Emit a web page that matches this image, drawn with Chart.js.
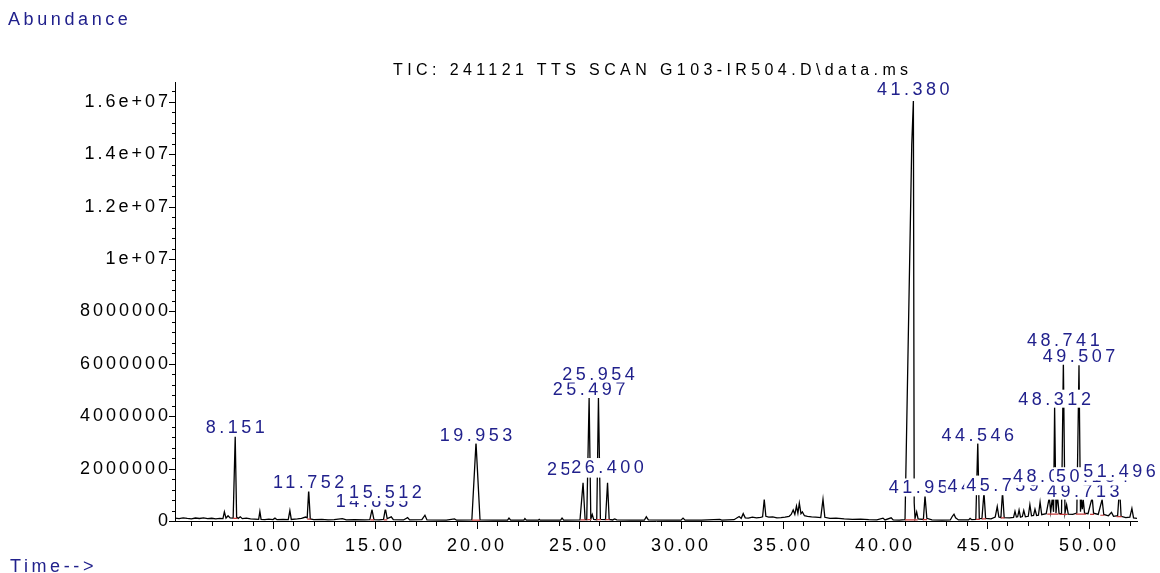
<!DOCTYPE html>
<html>
<head>
<meta charset="utf-8">
<script src="https://cdn.jsdelivr.net/npm/chart.js@4.4.1/dist/chart.umd.min.js"></script>
<style>
  html, body { margin: 0; padding: 0; background: #fff; }
  #wrap { position: relative; width: 1160px; height: 573px; overflow: hidden; }
  #chart { position: absolute; left: 0; top: 0; }
  .txt { position: absolute; white-space: nowrap; font-family: "Liberation Sans", Arial, sans-serif; line-height: 20px; }
  .blue { color: #21218c; font-size: 18px; letter-spacing: 3.6px; }
  #title { left: 393px; top: 60px; font-size: 16px; letter-spacing: 4.4px; color: #000; }
</style>
</head>
<body>
<div id="wrap">
  <canvas id="chart" width="1160" height="573"></canvas>
  <div class="txt blue" style="left:8px;top:9px">Abundance</div>
  <div class="txt" id="title">TIC: 241121 TTS SCAN G103-IR504.D\data.ms</div>
  <div class="txt blue" style="left:10px;top:556px">Time--&gt;</div>
</div>
<script>
// ------ DATA ------
// retention time (min) and abundance, line by line kept aligned
const retentionTimes = [
  5.2, 5.4, 5.6, 5.8, 6.0, 6.2, 6.4, 6.6, 6.8, 7.0, 7.2, 7.4, 7.55, 7.62, 7.7, 7.8, 7.9,
  8.05, 8.151, 8.22, 8.3, 8.4, 8.5, 8.7, 8.9, 9.1, 9.3, 9.36, 9.42, 9.6, 9.8, 10.0, 10.1, 10.2, 10.5, 10.75, 10.83, 10.9,
  11.2, 11.4, 11.6, 11.68, 11.752, 11.83, 12.0, 12.4, 12.7, 13.0, 13.4, 13.6, 14.0, 14.5, 14.75, 14.855, 14.95, 15.2, 15.42, 15.512, 15.6, 15.8, 15.9,
  16.4, 16.6, 16.7, 17.3, 17.45, 17.55, 18.5, 18.9, 19.0, 19.75, 19.953, 20.15, 20.8, 21.5, 21.57, 21.65, 22.3, 22.35, 22.42, 23.0, 23.05, 23.1, 24.1, 24.17, 24.25,
  25.05, 25.2, 25.3, 25.38, 25.497, 25.58, 25.65, 25.72, 25.87, 25.954, 26.05, 26.3, 26.4, 26.48, 26.65, 26.75, 26.85,
  27.5, 28.2, 28.3, 28.4, 29.3, 30.0, 30.1, 30.2, 31.0, 31.9, 32.0, 32.6, 32.85, 32.95, 33.05, 33.15, 33.3, 33.5, 33.7, 33.9,
  34.0, 34.08, 34.16, 34.3, 34.5, 34.7, 34.9, 35.1, 35.3, 35.4, 35.5, 35.58, 35.66, 35.73, 35.8, 35.88, 35.95, 36.05, 36.2, 36.4, 36.6, 36.85, 36.96, 37.05,
  37.3, 37.6, 38.0, 38.4, 38.8, 39.2, 39.6, 39.9, 40.0, 40.3, 40.4, 40.7, 40.98, 41.31, 41.39, 41.43, 41.47, 41.55, 41.62, 41.88, 41.96, 42.05, 42.3,
  42.8, 43.2, 43.3, 43.38, 43.46, 43.6, 44.1, 44.17, 44.25, 44.45, 44.546, 44.62, 44.75, 44.85, 44.93, 45.2, 45.4, 45.5, 45.58, 45.68, 45.759, 45.84,
  46.1, 46.3, 46.37, 46.44, 46.5, 46.57, 46.64, 46.73, 46.8, 46.88, 47.02, 47.1, 47.18, 47.28, 47.35, 47.43, 47.52, 47.6, 47.68, 47.9,
  48.052, 48.12, 48.2, 48.26, 48.312, 48.38, 48.45, 48.53, 48.65, 48.741, 48.82, 48.9, 48.98, 49.2,
  49.4, 49.507, 49.58, 49.62, 49.67, 49.713, 49.78, 49.95, 50.154, 50.22, 50.45, 50.64, 50.72, 50.95, 51.1, 51.2, 51.4, 51.496, 51.57, 51.8, 52.0, 52.1, 52.18, 52.35
];
const abundance = [
  110000, 90000, 120000, 100000, 85000, 115000, 95000, 120000, 90000, 105000, 80000, 100000, 90000, 350000, 110000, 200000, 120000,
  110000, 3230000, 150000, 100000, 160000, 90000, 110000, 80000, 70000, 60000, 360000, 60000, 50000, 70000, 55000, 110000, 50000, 60000, 55000, 400000, 60000,
  80000, 100000, 150000, 120000, 1170000, 80000, 50000, 60000, 40000, 50000, 90000, 40000, 50000, 40000, 50000, 430000, 50000, 45000, 60000, 470000, 90000, 160000, 50000,
  40000, 130000, 40000, 50000, 220000, 40000, 30000, 80000, 30000, 40000, 3000000, 40000, 30000, 30000, 110000, 30000, 30000, 90000, 30000, 30000, 60000, 30000, 30000, 110000, 30000,
  40000, 1460000, 60000, 50000, 4700000, 80000, 250000, 60000, 50000, 4700000, 60000, 50000, 1460000, 60000, 40000, 80000, 40000,
  30000, 30000, 160000, 40000, 30000, 30000, 110000, 30000, 30000, 60000, 35000, 50000, 170000, 100000, 280000, 120000, 110000, 150000, 120000, 140000,
  160000, 820000, 180000, 150000, 160000, 120000, 130000, 150000, 180000, 250000, 420000, 250000, 570000, 300000, 680000, 280000, 350000, 200000, 180000, 160000, 150000, 130000, 830000, 140000,
  100000, 110000, 80000, 60000, 70000, 50000, 40000, 110000, 40000, 120000, 40000, 30000, 50000, 14360000, 16030000, 700000, 100000, 350000, 80000, 60000, 960000, 100000, 40000,
  30000, 40000, 180000, 260000, 120000, 40000, 40000, 100000, 50000, 60000, 3000000, 100000, 90000, 1090000, 100000, 80000, 150000, 550000, 150000, 130000, 1110000, 130000,
  120000, 140000, 370000, 150000, 160000, 420000, 150000, 170000, 400000, 160000, 180000, 620000, 200000, 210000, 450000, 210000, 220000, 720000, 240000, 280000,
  900000, 350000, 880000, 350000, 4350000, 300000, 1000000, 280000, 280000, 6070000, 300000, 620000, 260000, 250000,
  300000, 5950000, 350000, 880000, 450000, 820000, 300000, 280000, 900000, 300000, 250000, 820000, 250000, 200000, 330000, 180000, 200000, 1300000, 180000, 130000, 150000, 480000, 120000, 100000
];

// integration baselines (red) : start, end, level
const baseStart = [8.05, 11.68, 14.78, 15.43, 19.75, 25.08, 25.38, 25.85, 26.3, 40.98, 41.85, 44.45, 44.75, 45.68, 47.95, 48.55, 49.35, 50.05, 50.55, 51.35];
const baseEnd   = [8.25, 11.85, 14.95, 15.6, 20.15, 25.32, 25.6, 26.08, 26.5, 41.6, 42.06, 44.65, 44.95, 45.86, 48.5, 48.95, 49.85, 50.25, 50.75, 51.6];
const baseLevel = [100000, 70000, 40000, 40000, 30000, 40000, 50000, 50000, 50000, 40000, 50000, 60000, 80000, 120000, 260000, 250000, 260000, 250000, 220000, 170000];

// peak labels, in drawing order (later ones cover earlier ones)
const labelTimes  = [8.151, 11.752, 14.855, 15.512, 19.953, 25.214, 26.400, 25.497, 25.954, 41.380, 41.957, 44.546, 44.846, 45.759, 48.312, 48.741, 49.507, 49.713, 48.052, 50.154, 51.496];
const labelTexts  = ['8.151', '11.752', '14.855', '15.512', '19.953', '25.214', '26.400', '25.497', '25.954', '41.380', '41.957', '44.546', '44.846', '45.759', '48.312', '48.741', '49.507', '49.713', '48.052', '50.154', '51.496'];
const labelLevels = [3570000, 1470000, 780000, 1100000, 3300000, 2000000, 2060000, 5050000, 5630000, 16500000, 1280000, 3300000, 1330000, 1390000, 4670000, 6920000, 6310000, 1160000, 1700000, 1700000, 1890000];

// axis ticks
const xMajorTicks = [10, 15, 20, 25, 30, 35, 40, 45, 50];
const xTickLabels = ['10.00', '15.00', '20.00', '25.00', '30.00', '35.00', '40.00', '45.00', '50.00'];
const yMajorTicks = [0, 2000000, 4000000, 6000000, 8000000, 10000000, 12000000, 14000000, 16000000];
const yTickLabels = ['0', '2000000', '4000000', '6000000', '8000000', '1e+07', '1.2e+07', '1.4e+07', '1.6e+07'];

// ------ helpers ------
const FONT = '"Liberation Sans", Arial, Helvetica, sans-serif';
const BLUE = '#21218c';

const xTickValues = [];
for (let v = 6; v <= 52; v++) xTickValues.push(v);
const yTickValues = [];
for (let v = 0; v <= 16400000; v += 400000) yTickValues.push(v);

const lineData = retentionTimes.map((t, i) => ({x: t, y: abundance[i]}));
const baseData = [];
baseStart.forEach((s, i) => {
  baseData.push({x: s, y: baseLevel[i]}, {x: baseEnd[i], y: baseLevel[i]}, {x: baseEnd[i], y: null});
});

// letter spaced canvas text, like the ChemStation print
const spacing = {
  id: 'spacing',
  beforeDraw(chart) { chart.ctx.letterSpacing = '3px'; }
};

// major / minor tick marks
const tickMarks = {
  id: 'tickMarks',
  afterDraw(chart) {
    const {ctx, chartArea: a, scales: {x, y}} = chart;
    ctx.save();
    ctx.strokeStyle = '#000';
    ctx.lineWidth = 1;
    ctx.beginPath();
    xTickValues.forEach(v => {
      const px = Math.round(x.getPixelForValue(v)) + 0.5;
      const len = xMajorTicks.includes(v) ? 8 : 5;
      ctx.moveTo(px, a.bottom);
      ctx.lineTo(px, a.bottom + len);
    });
    yTickValues.forEach(v => {
      const py = Math.round(y.getPixelForValue(v)) + 0.5;
      const len = yMajorTicks.includes(v) ? 6 : 3;
      ctx.moveTo(a.left - len, py);
      ctx.lineTo(a.left, py);
    });
    ctx.stroke();
    ctx.restore();
  }
};

// peak labels with white boxes
const peakLabels = {
  id: 'peakLabels',
  afterDatasetsDraw(chart) {
    const {ctx, scales: {x, y}} = chart;
    ctx.save();
    ctx.font = '18px ' + FONT;
    ctx.letterSpacing = '3.5px';
    ctx.textAlign = 'left';
    ctx.textBaseline = 'middle';
    labelTimes.forEach((t, i) => {
      const txt = labelTexts[i];
      const w = ctx.measureText(txt).width - 3.5;
      const cx = x.getPixelForValue(t);
      const cy = y.getPixelForValue(labelLevels[i]);
      const left = cx - w / 2;
      ctx.fillStyle = '#fff';
      ctx.fillRect(left - 2, cy - 9, w + 4, 18);
      ctx.fillStyle = BLUE;
      ctx.fillText(txt, left, cy + 1);
    });
    ctx.restore();
  }
};

new Chart(document.getElementById('chart'), {
  type: 'line',
  data: {
    datasets: [
      {data: baseData, borderColor: '#c23b3b', borderWidth: 1.2, pointRadius: 0, spanGaps: false, order: 0},
      {data: lineData, borderColor: '#000', borderWidth: 1.3, pointRadius: 0, tension: 0, order: 1}
    ]
  },
  options: {
    responsive: false,
    animation: false,
    devicePixelRatio: 1,
    layout: {padding: {left: 0, top: 82, right: 23, bottom: 0}},
    plugins: {legend: {display: false}, tooltip: {enabled: false}, title: {display: false}},
    scales: {
      x: {
        type: 'linear', min: 5.2, max: 52.35,
        afterBuildTicks: s => { s.ticks = xTickValues.map(v => ({value: v})); },
        afterFit: s => { s.height = 52; },
        grid: {display: false, drawTicks: false},
        border: {display: true, color: '#000', width: 1},
        ticks: {
          autoSkip: false, maxRotation: 0, padding: 14, color: '#000',
          font: {family: FONT, size: 18},
          callback: v => { const k = xMajorTicks.indexOf(v); return k < 0 ? '' : xTickLabels[k]; }
        }
      },
      y: {
        type: 'linear', min: 0, max: 16760000,
        afterBuildTicks: s => { s.ticks = yTickValues.map(v => ({value: v})); },
        afterFit: s => { s.width = 175; },
        grid: {display: false, drawTicks: false},
        border: {display: true, color: '#000', width: 1},
        ticks: {
          autoSkip: false, padding: 4, color: '#000',
          font: {family: FONT, size: 18},
          callback: v => { const k = yMajorTicks.indexOf(v); return k < 0 ? '' : yTickLabels[k]; }
        }
      }
    }
  },
  plugins: [spacing, tickMarks, peakLabels]
});
</script>
</body>
</html>
